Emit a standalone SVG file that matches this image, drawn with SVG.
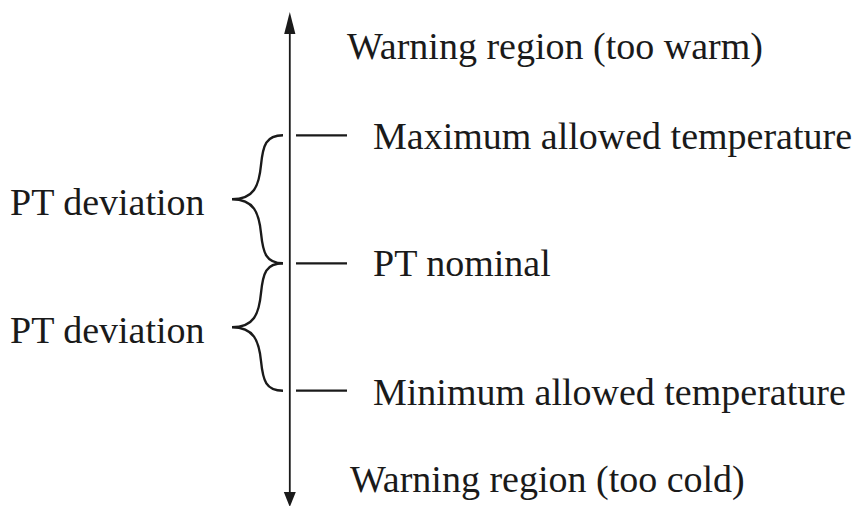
<svg xmlns="http://www.w3.org/2000/svg" width="860" height="506" viewBox="0 0 860 506">
<defs>
<style>
.lbl{font-family:'Liberation Serif','Times New Roman','DejaVu Serif',serif;font-size:38px;fill:#1a1a1a}
.tick{stroke:#1a1a1a;stroke-width:2.2;fill:none}
.brace{stroke:#1a1a1a;stroke-width:2.4;fill:none}
.axis{stroke:#1a1a1a;stroke-width:1.8;fill:none}
.head{fill:#1a1a1a}
</style>
</defs>
<rect width="860" height="506" fill="#fff"/>
<g id="connectors">
<line class="axis" x1="289.8" y1="30" x2="289.8" y2="495"/>
<polygon class="head" points="289.8,12 284.2,34 295.4,34"/>
<polygon class="head" points="289.8,507 283.8,492 295.8,492"/>
<line class="tick" x1="296" y1="135.3" x2="347" y2="135.3"/>
<line class="tick" x1="296" y1="263.3" x2="347" y2="263.3"/>
<line class="tick" x1="296" y1="390.7" x2="347" y2="390.7"/>
<path class="brace" d="M283,135.3 C266,135.3 263,145 261,165 C259,186 254,199.3 232,199.3 C254,199.3 259,213 261,233 C263,253 266,263.3 283,263.3"/>
<path class="brace" d="M283,263.3 C266,263.3 263,273 261,293 C259,314 254,327.3 232,327.3 C254,327.3 259,341 261,361 C263,381 266,390.7 283,390.7"/>
</g>
<g font-family="Liberation Serif, serif" font-size="38">
<g id="warn-warm"><text class="lbl" x="347" y="59">Warning region (too warm)</text></g>
<g id="max-temp"><text class="lbl" x="373" y="149.3">Maximum allowed temperature</text></g>
<g id="dev-upper"><text class="lbl" x="10" y="215">PT deviation</text></g>
<g id="nominal"><text class="lbl" x="373" y="276">PT nominal</text></g>
<g id="dev-lower"><text class="lbl" x="10" y="343">PT deviation</text></g>
<g id="min-temp"><text class="lbl" x="373" y="404.5">Minimum allowed temperature</text></g>
<g id="warn-cold"><text class="lbl" x="350" y="492.3">Warning region (too cold)</text></g>
</g>
</svg>
